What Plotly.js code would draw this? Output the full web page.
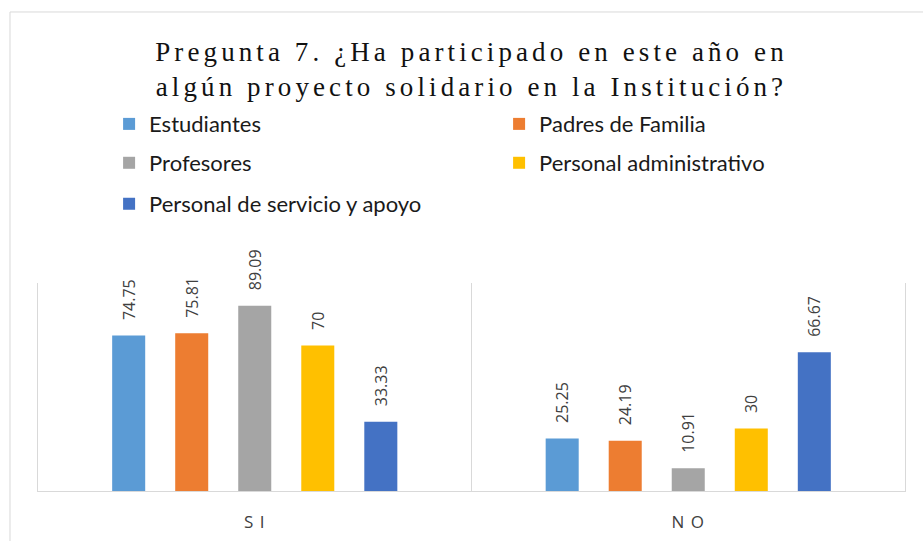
<!DOCTYPE html>
<html>
<head>
<meta charset="utf-8">
<script src="https://cdn.plot.ly/plotly-3.0.1.min.js"></script>
<style>
  html, body { margin: 0; padding: 0; background: #ffffff; }
  #chart { width: 923px; height: 541px; }
</style>
</head>
<body>
<div id="chart"></div>
<script>
// ---- Data ----
const categories = ["SI", "NO"];
const categoryLabels = ["S I", "N O"];
const seriesNames = ["Estudiantes", "Padres de Familia", "Profesores", "Personal administrativo", "Personal de servicio y apoyo"];
const estudiantes = [74.75, 25.25];
const padres = [75.81, 24.19];
const profesores = [89.09, 10.91];
const administrativo = [70, 30];
const servicio = [33.33, 66.67];
const seriesValues = [estudiantes, padres, profesores, administrativo, servicio];
const seriesColors = ["#5B9BD5", "#ED7D31", "#A5A5A5", "#FFC000", "#4472C4"];
const legendIds = ["legend", "legend", "legend2", "legend2", "legend3"];

const labelPad = "\u00a0\u00a0\u00a0";

const traces = seriesNames.map((name, i) => ({
  type: "bar",
  name: name,
  x: categories,
  y: seriesValues[i],
  marker: { color: seriesColors[i] },
  text: seriesValues[i].map(v => labelPad + String(v)),
  textposition: "outside",
  textangle: -90,
  constraintext: "none",
  cliponaxis: false,
  textfont: { family: "Open Sans, Noto Sans, sans-serif", size: 16, color: "#404040" },
  legend: legendIds[i],
  hoverinfo: "none"
}));

const legendCommon = {
  orientation: "h",
  xanchor: "left",
  yanchor: "middle",
  x: 0.082,
  entrywidth: 345,
  entrywidthmode: "pixels",
  font: { family: "Lato, Open Sans, sans-serif", size: 22, color: "#1a1a1a" },
  bgcolor: "rgba(0,0,0,0)",
  traceorder: "normal"
};

const layout = {
  width: 923,
  height: 541,
  margin: { l: 38, r: 18, t: 283, b: 50, autoexpand: false },
  paper_bgcolor: "#ffffff",
  plot_bgcolor: "#ffffff",
  barmode: "group",
  bargap: 0.273,
  bargroupgap: 0.476,
  showlegend: true,
  title: {
    text: "Pregunta 7. ¿Ha participado en este año en<br>algún proyecto solidario en la Institución?",
    font: { family: "Liberation Serif, Times New Roman, serif", size: 27, color: "#111111" },
    xref: "paper",
    x: 0.5,
    xanchor: "center",
    y: 0.887,
    yanchor: "middle"
  },
  xaxis: {
    type: "category",
    tickvals: categories,
    ticktext: categoryLabels,
    tickson: "boundaries",
    showgrid: true,
    gridcolor: "#d9d9d9",
    gridwidth: 1,
    showline: true,
    linecolor: "#d9d9d9",
    linewidth: 1,
    ticks: "",
    ticklabelstandoff: 16,
    zeroline: false,
    tickfont: { family: "Open Sans, sans-serif", size: 17, color: "#404040" },
    fixedrange: true
  },
  yaxis: {
    range: [0, 100],
    showticklabels: false,
    showline: true,
    mirror: true,
    linecolor: "#d9d9d9",
    linewidth: 1,
    ticks: "",
    showgrid: false,
    zeroline: false,
    fixedrange: true
  },
  legend: Object.assign({}, legendCommon, { y: 1.764 }),
  legend2: Object.assign({}, legendCommon, { y: 1.577 }),
  legend3: Object.assign({}, legendCommon, { y: 1.38 }),
  shapes: [{
    type: "rect",
    xref: "paper", yref: "paper",
    x0: -0.0323, x1: 1.03,
    y0: -0.3, y1: 2.303,
    line: { color: "#d9d9d9", width: 1 },
    fillcolor: "rgba(0,0,0,0)",
    layer: "below"
  }]
};

Plotly.newPlot("chart", traces, layout, { staticPlot: true, displayModeBar: false }).then(() => {
  document.querySelectorAll(".gtitle").forEach(t => { t.style.letterSpacing = "4.1px"; });
  document.querySelectorAll(".xtick text").forEach(t => { t.style.letterSpacing = "1px"; });
});
</script>
</body>
</html>
